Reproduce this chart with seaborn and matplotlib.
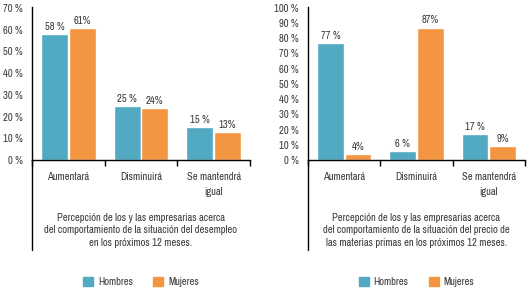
import matplotlib
matplotlib.use('Agg')
import matplotlib.pyplot as plt
import matplotlib.patches as mpatches
from matplotlib import font_manager
import pandas as pd
import seaborn as sns

# data
categorias = ['Aumentará', 'Disminuirá', 'Se mantendrá\nigual']
grupos = ['Hombres', 'Mujeres']
hombres_desempleo = [58, 25, 15]
mujeres_desempleo = [61, 24, 13]
hombres_materias = [77, 6, 17]
mujeres_materias = [4, 87, 9]
ticks_desempleo = list(range(0, 71, 10))
ticks_materias = list(range(0, 101, 10))
titulo_desempleo = ('Percepción de los y las empresarias acerca\n'
                    'del comportamiento de la situación del desempleo\n'
                    'en los próximos 12 meses.')
titulo_materias = ('Percepción de los y las empresarias acerca\n'
                   'del comportamiento de la situación del precio de\n'
                   'las materias primas en los próximos 12 meses.')

colores = ['#52A9C2', '#F49641']
gris = '#3a3a3a'

sns.set_style('white')

# the original uses a condensed face; take one if installed
nombres = {f.name for f in font_manager.fontManager.ttflist}
estrecha = [n for n in sorted(nombres) if 'Narrow' in n or 'Condensed' in n]
if estrecha:
    plt.rcParams['font.family'] = [estrecha[0], 'DejaVu Sans']
    fs = 7.6
else:
    plt.rcParams['font.family'] = ['Liberation Sans', 'DejaVu Sans']
    fs = 6.5
plt.rcParams['font.size'] = fs


def panel(ax, hombres, mujeres, yticks, titulo):
    df = pd.DataFrame({
        'categoria': categorias * 2,
        'grupo': ['Hombres'] * 3 + ['Mujeres'] * 3,
        'valor': hombres + mujeres,
    })
    sns.barplot(data=df, x='categoria', y='valor', hue='grupo', palette=colores,
                width=0.76, gap=0.03, legend=False, ax=ax, saturation=1)
    # value labels (hombres with a space, mujeres without, as in the original)
    for cont, fmt in zip(ax.containers, ['{} %', '{}%']):
        ax.bar_label(cont, labels=[fmt.format(int(b.get_height())) for b in cont],
                     padding=1.5, fontsize=fs, color=gris)
    ax.set_ylim(0, yticks[-1] + 0.5)
    ax.set_xlim(-0.5, 2.5)
    ax.set_yticks(yticks)
    ax.set_yticklabels([f'{v} %' for v in yticks], color=gris)
    ax.tick_params(axis='y', length=0, pad=6.5)
    ax.set_xticks(range(3))
    ax.set_xticklabels(categorias, color=gris, linespacing=1.6)
    ax.set_xticks([-0.5, 0.5, 1.5, 2.5], minor=True)
    ax.tick_params(axis='x', which='major', length=0, pad=8.5)
    ax.tick_params(axis='x', which='minor', length=4, width=1, color='black',
                   direction='out', bottom=True)
    ax.set_xlabel('')
    ax.set_ylabel('')
    for s in ['top', 'right']:
        ax.spines[s].set_visible(False)
    for s in ['left', 'bottom']:
        ax.spines[s].set_color('black')
        ax.spines[s].set_linewidth(1)
    # left line runs down past the caption
    ax.plot([0, 0], [0, -0.59], transform=ax.transAxes, color='black',
            lw=1, clip_on=False)
    ax.text(0.5, -0.345, titulo, transform=ax.transAxes, ha='center', va='top',
            fontsize=fs, color=gris, linespacing=1.3)
    # legend below
    handles = [mpatches.Patch(color=c, label=g) for c, g in zip(colores, grupos)]
    ax.legend(handles=handles, loc='upper center', bbox_to_anchor=(0.5, -0.7),
              ncol=2, frameon=False, handlelength=0.95, handleheight=0.95,
              columnspacing=1.9, handletextpad=0.45, fontsize=fs, labelcolor=gris)


fig = plt.figure(figsize=(5.31, 2.90), dpi=100)
W, H = 531, 290
ax1 = fig.add_axes([32 / W, (H - 160) / H, 218 / W, 153 / H])
ax2 = fig.add_axes([308 / W, (H - 160) / H, 217 / W, 153 / H])

panel(ax1, hombres_desempleo, mujeres_desempleo, ticks_desempleo, titulo_desempleo)
panel(ax2, hombres_materias, mujeres_materias, ticks_materias, titulo_materias)

fig.savefig('out.png', dpi=100)
